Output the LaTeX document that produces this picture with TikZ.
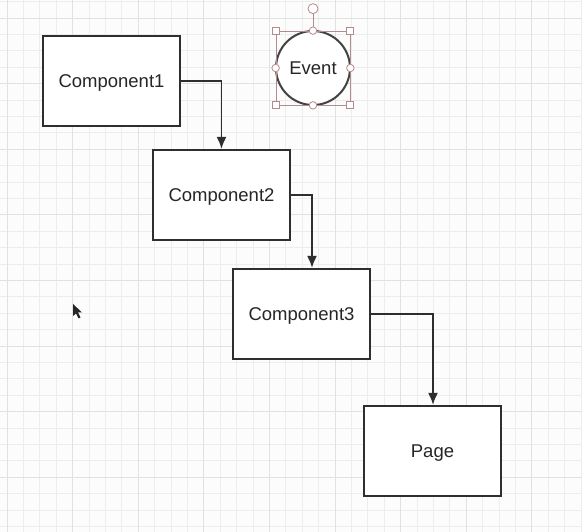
\documentclass[tikz,border=0pt]{standalone}
\usepackage{fontspec}
\setmainfont{Liberation Sans}
\usetikzlibrary{arrows.meta}
\usetikzlibrary{positioning}
\definecolor{boxline}{HTML}{2E2E2E}
\definecolor{gridminor}{HTML}{ECEEEC}
\definecolor{gridmajor}{HTML}{DFE2DF}
\definecolor{selpink}{HTML}{B58A8F}
\definecolor{paper}{HTML}{FBFCFB}
\tikzstyle{flow}=[every node/.style={text=black!85,font=\fontsize{18.5}{21}\selectfont}]
\tikzstyle{comp}=[rectangle,draw=boxline,line width=2.2pt,fill=white,
                  minimum width=137pt,minimum height=90pt,inner sep=0,
                  text height=13.3pt,text depth=0pt]
\tikzstyle{evt}=[circle,draw=boxline!90,line width=2pt,fill=white,
                 minimum size=74pt,inner sep=0,text height=13.3pt,text depth=0pt]
\tikzstyle{link}=[draw=boxline,line width=1.8pt,-{Latex[length=12pt,width=10pt]}]
\tikzstyle{handle}=[draw=selpink,fill=white,line width=0.8pt,inner sep=0]

\begin{document}
\begin{tikzpicture}[flow,x=1pt,y=-1pt]
  \path[use as bounding box,fill=paper] (0,0) rectangle (582,532);
  % grid
  \foreach \i in {0,...,35}
    \draw[line width=0.8pt,color=gridminor] (7+16.4*\i,0) -- (7+16.4*\i,532);
  \foreach \j in {0,...,32}
    \draw[line width=0.8pt,color=gridminor] (0,1.6+16.4*\j) -- (582,1.6+16.4*\j);
  \foreach \i in {0,4,...,32}
    \draw[line width=0.8pt,color=gridmajor] (7+16.4*\i,0) -- (7+16.4*\i,532);
  \foreach \j in {1,5,...,29}
    \draw[line width=0.8pt,color=gridmajor] (0,1.6+16.4*\j) -- (582,1.6+16.4*\j);

  \node[comp] (c1) at (111.5,81) {Component1};
  \node[comp] (c2) at (221.5,195) {Component2};
  \node[comp] (c3) at (301.5,314) {Component3};
  \node[comp] (pg) at (432.5,451) {Page};
  \node[evt] (ev) at (313,68) {Event};

  \path
    (c1.east) edge[link,to path={-| (\tikztotarget)}] (c2.north)
    (c2.east) edge[link,to path={-| (\tikztotarget)}] ([xshift=10.5pt]c3.north)
    (c3.east) edge[link,to path={-| (\tikztotarget)}] ([xshift=0.5pt]pg.north);

  % selection handles
  \node[draw=selpink,line width=0.7pt,minimum size=74pt,inner sep=0] (sel) at (ev) {};
  \coordinate[above=22pt of sel.north] (rot);
  \draw[selpink,line width=0.8pt] (rot) -- (sel.north);
  \foreach \a in {north west,north east,south west,south east}
    \node[handle,rectangle,minimum size=7pt] at (sel.\a) {};
  \foreach \a in {north,east,south,west}
    \node[handle,circle,minimum size=7.5pt] at (sel.\a) {};
  \node[handle,circle,minimum size=10pt] at (rot) {};

  % cursor
  \fill[black!85] (73,304) -- (73,316) -- (76,313.5) -- (78.5,318.5) -- (80.5,317.5)
    -- (78,312.5) -- (82,312.5) -- cycle;
\end{tikzpicture}
\end{document}
